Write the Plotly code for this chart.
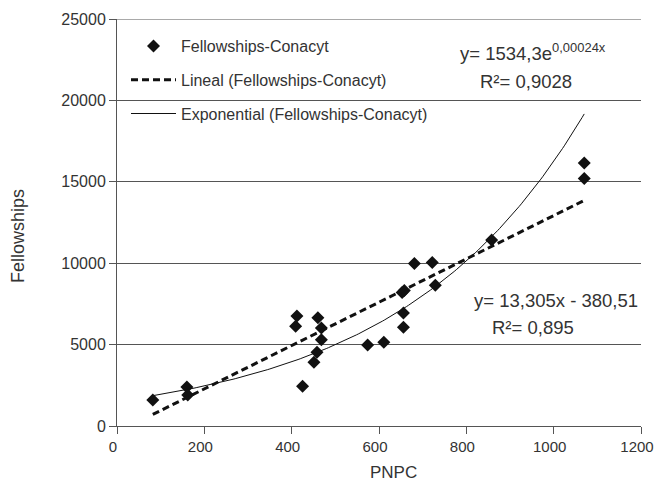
import numpy as np
import plotly.graph_objects as go

# Data
pnpc = [82, 160, 162, 412, 409, 425, 460, 468, 468, 458, 451, 574, 611,
        653, 658, 656, 656, 681, 722, 729, 858, 1070, 1070]
fellowships = [1600, 2400, 1900, 6750, 6120, 2440, 6650, 6020, 5300, 4530,
               3920, 4980, 5140, 8200, 8330, 6940, 6060, 9980, 10040, 8650,
               11430, 16150, 15200]

# Trend line parameters
lin_slope, lin_intercept = 13.305, -380.51
exp_a, exp_b = 1534.3, 0.00236

series_name = "Fellowships-Conacyt"
lin_name = "Lineal (Fellowships-Conacyt)"
exp_name = "Exponential (Fellowships-Conacyt)"

x_ticks = [0, 200, 400, 600, 800, 1000, 1200]
y_ticks = [0, 5000, 10000, 15000, 20000, 25000]
y_ticktext = ["0", "5000", "10000", "15000", "20000", "25000"]

xmin, xmax = min(pnpc), max(pnpc)
xt = np.linspace(xmin, xmax, 200)
y_lin = lin_slope * xt + lin_intercept
y_exp = exp_a * np.exp(exp_b * xt)

FONT = "Liberation Sans, Arial, sans-serif"
TXT = "#333333"
L, R, T, B = 117, 16, 19, 59
PW, PH = 657 - L - R, 485 - T - B

fig = go.Figure()
fig.add_trace(go.Scatter(x=pnpc, y=fellowships, mode="markers", name=series_name,
                         legendgroup="a",
                         marker=dict(symbol="diamond", size=10, color="#111111")))
fig.add_trace(go.Scatter(x=xt, y=y_lin, mode="lines", name=lin_name, legendgroup="b",
                         line=dict(color="#111111", width=3, dash="7px,4px")))
fig.add_trace(go.Scatter(x=xt, y=y_exp, mode="lines", name=exp_name, legendgroup="c",
                         line=dict(color="#111111", width=1)))

fig.update_layout(
    width=657, height=485,
    margin=dict(l=L, r=R, t=T, b=B),
    paper_bgcolor="white", plot_bgcolor="white",
    font=dict(family=FONT, size=16, color=TXT),
    showlegend=True,
    legend=dict(x=9 / PW, y=1 - 10 / PH, xanchor="left", yanchor="top",
                bgcolor="rgba(0,0,0,0)", font=dict(size=16, color=TXT),
                tracegroupgap=10, itemwidth=45, traceorder="grouped"),
    xaxis=dict(range=[0, 1200], tickvals=x_ticks, ticks="outside", ticklen=7,
               tickcolor="#555", showline=True, linecolor="#555", linewidth=1,
               showgrid=False, zeroline=False, tickfont=dict(size=15, color=TXT),
               automargin=False, ticklabeloverflow="allow", ticklabelshift=-4),
    yaxis=dict(range=[0, 25000], tickvals=y_ticks, ticktext=y_ticktext,
               ticks="outside", ticklen=7,
               tickcolor="#555", showline=True, linecolor="#555", linewidth=1,
               showgrid=True, gridcolor="#555", gridwidth=1, zeroline=False,
               tickfont=dict(size=16, color=TXT), automargin=False,
               ticklabeloverflow="allow"),
)

# top grid line at the 25000 tick
fig.add_shape(type="line", xref="paper", yref="y", x0=0, x1=1, y0=y_ticks[-1], y1=y_ticks[-1],
              line=dict(color="#555", width=1))

def px_x(p):
    return (p - L) / PW

def px_y(p):
    return 1 - (p - T) / PH

# axis titles
fig.add_annotation(x=px_x(18), y=px_y(236), xref="paper", yref="paper",
                   text="Fellowships", textangle=-90, showarrow=False,
                   xanchor="center", yanchor="middle",
                   font=dict(size=18, color=TXT, family=FONT))
fig.add_annotation(x=px_x(393), y=px_y(472), xref="paper", yref="paper",
                   text="PNPC", showarrow=False, xanchor="center", yanchor="middle",
                   font=dict(size=17, color=TXT, family=FONT))

annots = [
    ("y= 1534,3e<sup>0,00024x</sup>", 533, 52),
    ("R²= 0,9028", 526, 81),
    ("y= 13,305x - 380,51", 556, 300),
    ("R²= 0,895", 533, 327),
]
for text, px, py in annots:
    fig.add_annotation(x=px_x(px), y=px_y(py), xref="paper", yref="paper",
                       text=text, showarrow=False, xanchor="center", yanchor="middle",
                       font=dict(size=18.5, color=TXT, family=FONT))

fig.write_html("out.html")
